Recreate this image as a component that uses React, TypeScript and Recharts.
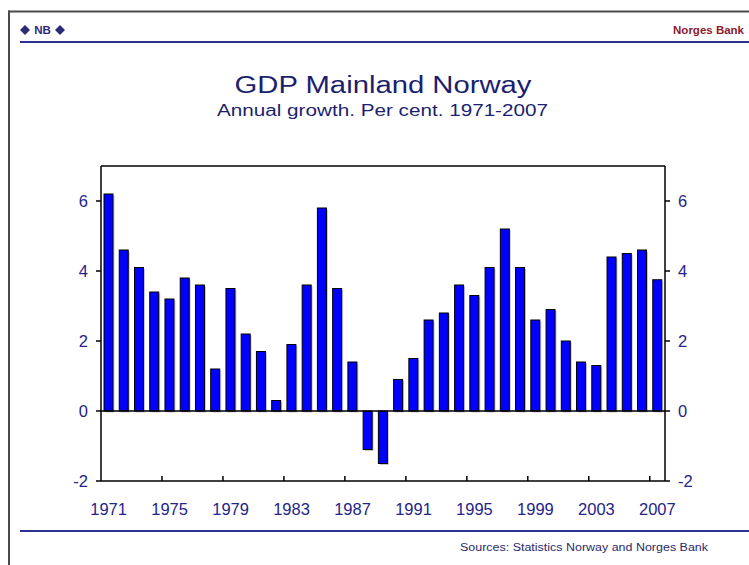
import React from "react";
import { BarChart, Bar, XAxis, YAxis, ReferenceLine } from "recharts";

const years = [
  1971, 1972, 1973, 1974, 1975, 1976, 1977, 1978, 1979, 1980, 1981, 1982, 1983,
  1984, 1985, 1986, 1987, 1988, 1989, 1990, 1991, 1992, 1993, 1994, 1995, 1996,
  1997, 1998, 1999, 2000, 2001, 2002, 2003, 2004, 2005, 2006, 2007,
];
const growth = [
  6.2, 4.6, 4.1, 3.4, 3.2, 3.8, 3.6, 1.2, 3.5, 2.2, 1.7, 0.3, 1.9,
  3.6, 5.8, 3.5, 1.4, -1.1, -1.5, 0.9, 1.5, 2.6, 2.8, 3.6, 3.3, 4.1,
  5.2, 4.1, 2.6, 2.9, 2.0, 1.4, 1.3, 4.4, 4.5, 4.6, 3.75,
];
const yTicks = [-2, 0, 2, 4, 6];
const yDomain = [-2, 7];
const labelEvery = 4;

const title = "GDP Mainland Norway";
const subtitle = "Annual growth. Per cent. 1971-2007";
const source = "Sources: Statistics Norway and Norges Bank";

const data = years.map((y, i) => ({ year: String(y), value: growth[i] }));

const W = 749;
const H = 565;
const PLOT_LEFT = 101;
const PLOT_RIGHT = 665;
const BAND = (PLOT_RIGHT - PLOT_LEFT) / data.length;
const FONT = "'Liberation Sans', Arial, sans-serif";
const NAVY = "#24248a";

const XTick = (props: any) => {
  const { x, y, payload } = props;
  const idx = props.index ?? payload.index;
  if (idx % labelEvery !== 0) return null;
  const bx = x - BAND / 2;
  return (
    <g>
      {idx > 0 && <line x1={bx} x2={bx} y1={y} y2={y - 5} stroke="#000" strokeWidth={1.5} />}
      <text x={x} y={y + 34} textAnchor="middle" fontSize={16.5} fill={NAVY} fontFamily={FONT}>
        {payload.value}
      </text>
    </g>
  );
};

const BarShape = (props: any) => {
  const { x, y, width, height } = props;
  const ry = height < 0 ? y + height : y;
  const rh = Math.abs(height);
  return (
    <g>
      <rect x={x + 1.5} y={ry + 1.5} width={width} height={rh} fill="#c8c8d0" />
      <rect x={x} y={ry} width={width} height={rh} fill="#0000ff" stroke="#000" strokeWidth={1} />
    </g>
  );
};

export default function App() {
  return (
    <div style={{ position: "absolute", left: 0, top: 0, width: W, height: H, background: "#fff" }}>
      <BarChart
        width={W}
        height={H}
        data={data}
        margin={{ top: 166, right: 44, bottom: 54, left: 61 }}
      >
        <XAxis
          dataKey="year"
          interval={0}
          height={30}
          tickSize={0}
          tickMargin={0}
          tickLine={false}
          axisLine={{ stroke: "#000", strokeWidth: 1.5 }}
          tick={<XTick />}
        />
        <YAxis
          yAxisId="left"
          width={40}
          domain={yDomain}
          ticks={yTicks}
          allowDataOverflow
          tickSize={5}
          tickMargin={8}
          axisLine={{ stroke: "#000", strokeWidth: 1.5 }}
          tickLine={{ stroke: "#000", strokeWidth: 1.5 }}
          tick={{ fontSize: 16.5, fill: NAVY, fontFamily: FONT }}
        />
        <YAxis
          yAxisId="right"
          orientation="right"
          width={40}
          domain={yDomain}
          ticks={yTicks}
          allowDataOverflow
          tickSize={5}
          tickMargin={8}
          axisLine={{ stroke: "#000", strokeWidth: 1.5 }}
          tickLine={{ stroke: "#000", strokeWidth: 1.5 }}
          tick={{ fontSize: 16.5, fill: NAVY, fontFamily: FONT }}
        />
        <ReferenceLine yAxisId="left" y={7} stroke="#000" strokeWidth={1.5} />
        <Bar yAxisId="left" dataKey="value" barSize={9} isAnimationActive={false} shape={<BarShape />} />
        <ReferenceLine yAxisId="left" y={0} stroke="#000" strokeWidth={1.5} />
      </BarChart>
      <svg
        width={W}
        height={H}
        style={{ position: "absolute", left: 0, top: 0, pointerEvents: "none" }}
      >
        <line x1={8} x2={W} y1={11.5} y2={11.5} stroke="#4a4a4a" strokeWidth={2} />
        <line x1={9} x2={9} y1={10.5} y2={H} stroke="#4a4a4a" strokeWidth={2} />
        <g fill="#2b2b7a">
          <polygon points="20,30 25,25 30,30 25,35" />
          <polygon points="55,30 60,25 65,30 60,35" />
          <text x={42.5} y={34} textAnchor="middle" fontSize={11.5} fontWeight="bold" fontFamily={FONT}>
            NB
          </text>
        </g>
        <text x={744} y={34} textAnchor="end" fontSize={11.5} fontWeight="bold" fill="#8b1a2e" fontFamily={FONT}>
          Norges Bank
        </text>
        <line x1={20} x2={W} y1={42} y2={42} stroke="#2e3192" strokeWidth={2} />
        <text
          x={383}
          y={93}
          textAnchor="middle"
          fontSize={23}
          fill="#1b1f6e"
          fontFamily={FONT}
          textLength={297}
          lengthAdjust="spacingAndGlyphs"
        >
          {title}
        </text>
        <text
          x={382.5}
          y={116}
          textAnchor="middle"
          fontSize={16}
          fill="#1b1f6e"
          fontFamily={FONT}
          textLength={331}
          lengthAdjust="spacingAndGlyphs"
        >
          {subtitle}
        </text>
        <line x1={20} x2={W} y1={531} y2={531} stroke="#2e3192" strokeWidth={2} />
        <text
          x={584}
          y={551}
          textAnchor="middle"
          fontSize={10}
          fill="#2b2b6a"
          fontFamily={FONT}
          textLength={248}
          lengthAdjust="spacingAndGlyphs"
        >
          {source}
        </text>
      </svg>
    </div>
  );
}
